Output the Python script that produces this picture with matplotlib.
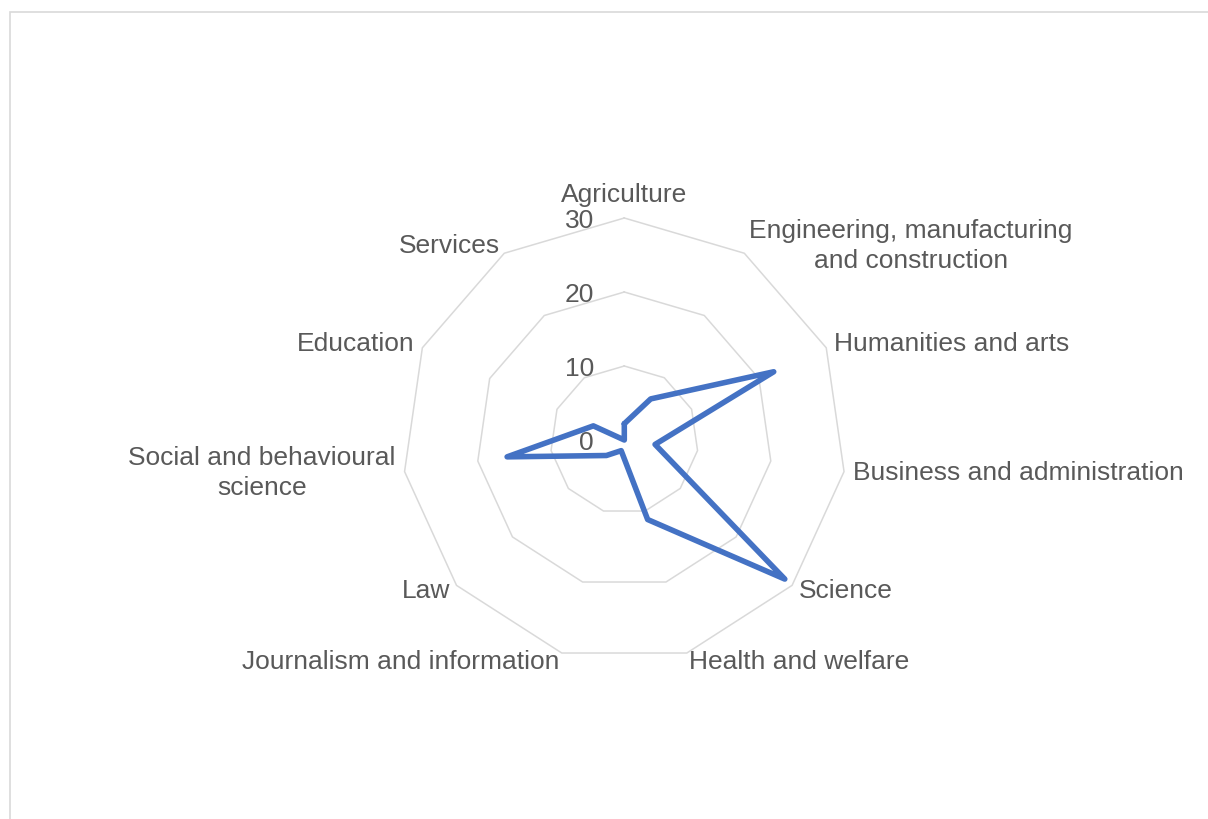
import numpy as np
import matplotlib.pyplot as plt
from matplotlib.patches import Rectangle

# === Data (clockwise from top) ===
categories = [
    'Agriculture',
    'Engineering, manufacturing\nand construction',
    'Humanities and arts',
    'Business and administration',
    'Science',
    'Health and welfare',
    'Journalism and information',
    'Law',
    'Social and behavioural\nscience',
    'Education',
    'Services',
]
values = [2.2, 6.6, 22.2, 4.2, 28.7, 11.2, 1.5, 3.2, 16.0, 4.6, 0.0]
ticks = [0, 10, 20, 30]

plt.rcParams['font.family'] = ['Liberation Sans', 'DejaVu Sans']

W, H = 1208, 819
cx, cy = 624.3, 440.0   # centre in pixels (from top-left)
ppu = 7.4               # pixels per value unit

fig = plt.figure(figsize=(W / 100, H / 100), dpi=100)
ax = fig.add_axes([0, 0, 1, 1])
ax.set_xlim(-cx / ppu, (W - cx) / ppu)
ax.set_ylim(-(H - cy) / ppu, cy / ppu)
ax.axis('off')

n = len(categories)
ang = np.arange(n) * 2 * np.pi / n
sx, sy = np.sin(ang), np.cos(ang)

# === Grid rings ===
grid_col = '#d9d9d9'
for t in ticks[1:]:
    gx = np.append(t * sx, t * sx[0])
    gy = np.append(t * sy, t * sy[0])
    ax.plot(gx, gy, color=grid_col, lw=1.1, zorder=1)

# tick labels
for t in ticks:
    ax.text(-4.1, t - 0.4, str(t), ha='right', va='center', fontsize=19, color='#595959')

# === Data series ===
v = np.array(values)
px = np.append(v * sx, v[0] * sx[0])
py = np.append(v * sy, v[0] * sy[0])
ax.plot(px, py, color='#4472C4', lw=4, solid_joinstyle='round',
        solid_capstyle='round', zorder=3)

# === Category labels ===
for i, lab in enumerate(categories):
    rl = 31.2
    if abs(sx[i]) < 1e-6:
        ha, va = 'center', 'bottom'
        rl = 31.5
    elif sx[i] > 0:
        ha, va = 'left', 'center'
    else:
        ha, va = 'right', 'center'
    ax.text(rl * sx[i], rl * sy[i], lab, ha=ha, va=va, multialignment='center',
            fontsize=19, color='#595959', linespacing=1.3)

# chart area border
fig.patches.append(Rectangle((9.5 / W, -0.1), 1.2, 1.1 - 12.5 / H,
                             transform=fig.transFigure, fill=False,
                             edgecolor=grid_col, lw=1.2))

fig.savefig('out.png', dpi=100)
